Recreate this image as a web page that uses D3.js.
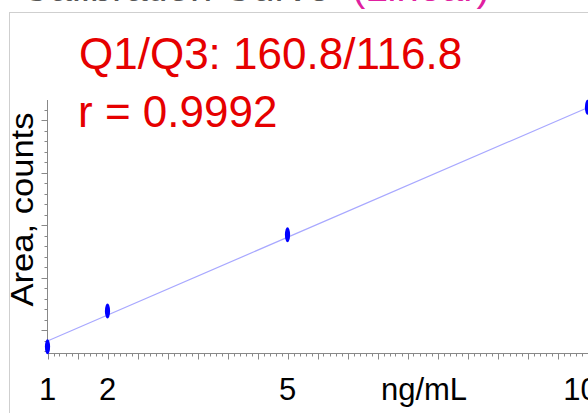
<!DOCTYPE html>
<html><head><meta charset="utf-8">
<script src="https://cdn.jsdelivr.net/npm/d3@7"></script>
<style>html,body{margin:0;padding:0;background:#fff;overflow:hidden}svg{display:block}text{font-family:"Liberation Sans",Arial,sans-serif}</style>
</head><body><svg id="c" width="588" height="413"></svg>
<script>
// Data
const concentrations = [1, 2, 5, 10];
const areas = [6820, 13620, 28150, 52440];
const fitSlope = 4938;
const fitIntercept = 2967;
const xTickLabels = [1, 2, 5, 10];
const xUnit = "ng/mL";
const yLabel = "Area, counts";
const statsLines = ["Q1/Q3: 160.8/116.8", "r = 0.9992"];
const titleMain = "Calibration Curve";
const titleExtra = "(Linear)";

const svg = d3.select("#c");
const x = d3.scaleLinear().domain([1, 10.6]).range([47.5, 623.5]);
const y = d3.scaleLinear().domain([0, 53810]).range([382.5, 100]);
const yBottom = 5619;

// frame
svg.append("rect").attr("x", 9.5).attr("y", 12.5).attr("width", 620).attr("height", 420)
  .attr("fill", "none").attr("stroke", "#cfcfcf").attr("stroke-width", 1);

// cut-off title
svg.append("text").attr("x", 330).attr("y", 0.5).attr("text-anchor", "end")
  .attr("font-size", 40).attr("fill", "#555").text(titleMain);
svg.append("text").attr("x", 352).attr("y", 0.5).attr("font-size", 40).attr("fill", "#e020a0").text(titleExtra);

// axes lines
svg.append("line").attr("x1", 47.5).attr("x2", 47.5).attr("y1", y(53810)).attr("y2", y(yBottom))
  .attr("stroke", "#888").attr("stroke-width", 1);
svg.append("line").attr("x1", 47.5).attr("x2", 600).attr("y1", y(yBottom) + 0.5).attr("y2", y(yBottom) + 0.5)
  .attr("stroke", "#888").attr("stroke-width", 1);

// x ticks
const xMinor = d3.range(10, 106).map(d => d / 10);
const axisY = y(yBottom) + 0.5;
svg.append("g").selectAll("line").data(xMinor).join("line")
  .attr("x1", d => Math.round(x(d)) + 0.5).attr("x2", d => Math.round(x(d)) + 0.5)
  .attr("y1", axisY).attr("y2", d => axisY + (Math.abs(d * 2 - Math.round(d * 2)) < 1e-6 ? 6 : 3))
  .attr("stroke", "#888").attr("stroke-width", 1);

// y ticks
const yMinor = d3.range(6000, 53000, 2000);
svg.append("g").selectAll("line").data(yMinor).join("line")
  .attr("y1", d => Math.round(y(d)) + 0.5).attr("y2", d => Math.round(y(d)) + 0.5)
  .attr("x1", 47.5).attr("x2", d => 47.5 - (d % 10000 === 0 ? 6 : 3))
  .attr("stroke", "#888").attr("stroke-width", 1);

// x labels (the last one is pushed left so it stays near the edge)
svg.append("g").selectAll("text").data(xTickLabels).join("text")
  .attr("x", d => x(d) - (d === 10 ? 7 : 0)).attr("y", 399.5).attr("text-anchor", "middle")
  .attr("font-size", 31).attr("fill", "#000").text(d => d);
svg.append("text").attr("x", 424).attr("y", 399.5).attr("text-anchor", "middle")
  .attr("font-size", 31).attr("fill", "#000").text(xUnit);

// y label
svg.append("text").attr("transform", "translate(32.5,209.5) rotate(-90)").attr("text-anchor", "middle")
  .attr("font-size", 32).attr("textLength", 194).attr("lengthAdjust", "spacingAndGlyphs")
  .attr("fill", "#000").text(yLabel);

// fit line
svg.append("line")
  .attr("x1", x(1)).attr("y1", y(fitIntercept + fitSlope * 1))
  .attr("x2", x(10)).attr("y2", y(fitIntercept + fitSlope * 10))
  .attr("stroke", "#a8a8ff").attr("stroke-width", 1.2);

// points
svg.append("g").selectAll("ellipse").data(concentrations).join("ellipse")
  .attr("cx", d => x(d)).attr("cy", (d, i) => y(areas[i]))
  .attr("rx", 2.6).attr("ry", 7.5).attr("fill", "#0000ff");

// stats
svg.append("text").attr("x", 79).attr("y", 69).attr("font-size", 44).attr("fill", "#e60000").text(statsLines[0]);
svg.append("text").attr("x", 78).attr("y", 127).attr("font-size", 44).attr("fill", "#e60000").text(statsLines[1]);
</script></body></html>
